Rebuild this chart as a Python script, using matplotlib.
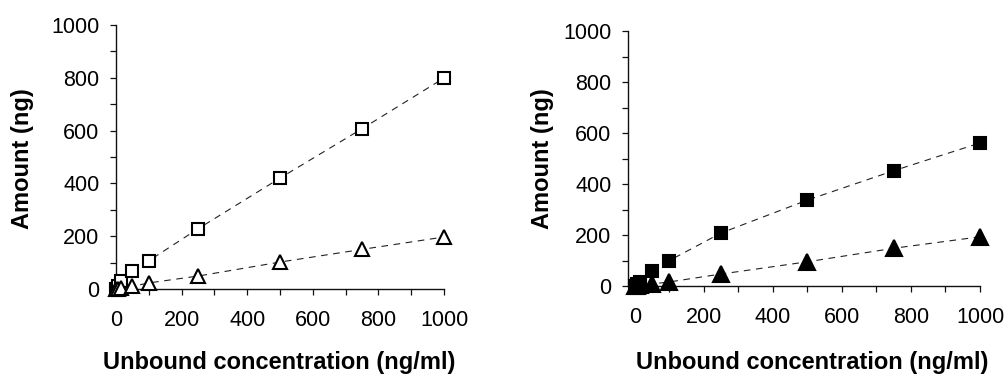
import matplotlib
matplotlib.use("Agg")
import matplotlib.pyplot as plt
from matplotlib.ticker import MultipleLocator

# ---- data ----
conc = [0, 5, 15, 50, 100, 250, 500, 750, 1000]
left_squares = [0, 10, 30, 70, 107, 228, 420, 607, 799]
left_triangles = [0, 1, 3, 10, 23, 49, 102, 150, 197]
right_squares = [0, 8, 15, 60, 100, 208, 337, 452, 561]
right_triangles = [0, 0, 2, 8, 16, 47, 95, 148, 193]

xticks = [0, 200, 400, 600, 800, 1000]
yticks = [0, 200, 400, 600, 800, 1000]
xlabel = "Unbound concentration (ng/ml)"
ylabel = "Amount (ng)"

plt.rcParams['font.family'] = ['Liberation Sans', 'DejaVu Sans']

W, H = 1008, 375
fig = plt.figure(figsize=(W / 100, H / 100), dpi=100)

def px_axes(x0, y_top, x1, y_bot):
    return fig.add_axes([x0 / W, 1 - y_bot / H, (x1 - x0) / W, (y_bot - y_top) / H])

axL = px_axes(116, 25, 444, 289)
axR = px_axes(628, 31, 980, 286)

def style(ax, xlim):
    ax.set_xlim(*xlim)
    ax.set_ylim(0, 1000)
    for s in ('top', 'right'):
        ax.spines[s].set_visible(False)
    for s in ('left', 'bottom'):
        ax.spines[s].set_linewidth(1.0)
        ax.spines[s].set_color('#111111')
    ax.set_xticks(xticks)
    ax.set_yticks(yticks)
    ax.xaxis.set_minor_locator(MultipleLocator(100))
    ax.yaxis.set_minor_locator(MultipleLocator(100))
    ax.tick_params(which='both', direction='out', length=4, width=0.9, color='#111111')
    ax.tick_params(axis='y', which='major', labelsize=15.5, pad=8)
    ax.tick_params(axis='x', which='major', labelsize=15.5, pad=11)
    ax.set_facecolor('none')

def draw(ax, sq, tri, filled, sq_size, tri_size):
    fc = 'black' if filled else 'white'
    ax.plot(conc, sq, linestyle=(0, (6, 5)), color='#222222', linewidth=0.8, zorder=2)
    ax.plot(conc, tri, linestyle=(0, (6, 5)), color='#222222', linewidth=0.8, zorder=2)
    ax.plot(conc, sq, linestyle='none', marker='s', markersize=sq_size, markerfacecolor=fc,
            markeredgecolor='black', markeredgewidth=1.5, clip_on=False, zorder=3)
    ax.plot(conc, tri, linestyle='none', marker='^', markersize=tri_size, markerfacecolor=fc,
            markeredgecolor='black', markeredgewidth=1.5, clip_on=False, zorder=3)

style(axL, (0, 1000))
style(axR, (-20, 1000))
draw(axL, left_squares, left_triangles, filled=False, sq_size=8, tri_size=9.5)
draw(axR, right_squares, right_triangles, filled=True, sq_size=9, tri_size=11)

# axis labels
fig.text(279 / W, 1 - 369 / H, xlabel, ha='center', va='baseline', fontsize=17, fontweight='bold')
fig.text(812 / W, 1 - 369 / H, xlabel, ha='center', va='baseline', fontsize=17, fontweight='bold')
fig.text(22 / W, 1 - 159 / H, ylabel, ha='center', va='center', rotation=90, fontsize=17, fontweight='bold')
fig.text(542 / W, 1 - 159 / H, ylabel, ha='center', va='center', rotation=90, fontsize=17, fontweight='bold')

fig.savefig("out.png", dpi=100)
